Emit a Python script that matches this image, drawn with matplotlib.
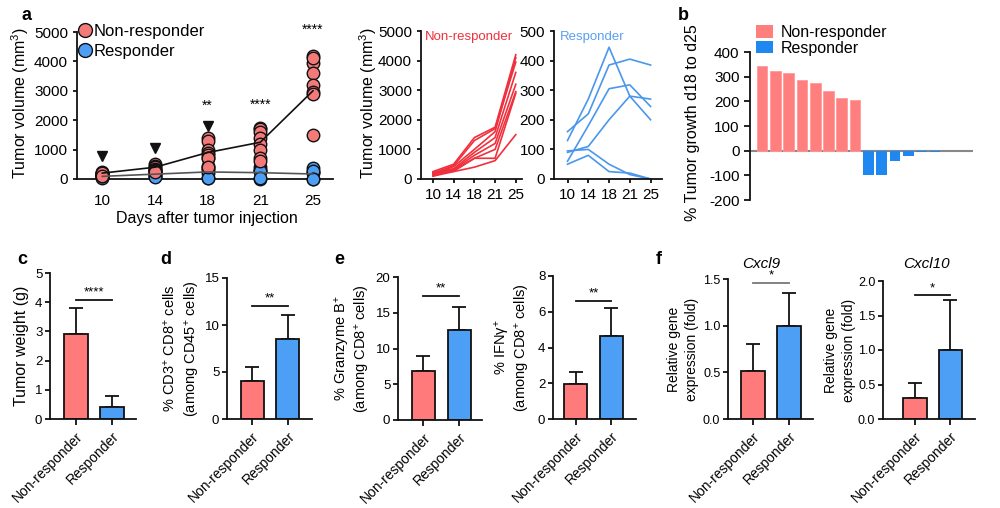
import matplotlib
matplotlib.use("Agg")
import matplotlib.pyplot as plt
from matplotlib.lines import Line2D
from matplotlib.patches import Patch
import numpy as np

plt.rcParams['font.family'] = ['Liberation Sans', 'DejaVu Sans']
plt.rcParams['mathtext.fontset'] = 'custom'
plt.rcParams['mathtext.rm'] = 'Liberation Sans'
plt.rcParams['mathtext.it'] = 'Liberation Sans:italic'
plt.rcParams['axes.unicode_minus'] = False

W, H = 1000, 508

# ---------------- data ----------------
days = ['10', '14', '18', '21', '25']
groups = ['Non-responder', 'Responder']

# individual tumour volumes (mm3), one list per mouse
nr_vol = [
    [250, 500, 1400, 1750, 4200],
    [200, 450, 1300, 1700, 3950],
    [150, 420, 1000, 1600, 4100],
    [200, 350, 900, 1400, 3600],
    [150, 320, 800, 1200, 3200],
    [100, 300, 700, 1000, 2950],
    [220, 260, 700, 700, 2900],
    [100, 250, 400, 620, 1500],
]
r_vol = [
    [130, 270, 445, 280, 200],
    [160, 220, 385, 405, 385],
    [60, 180, 305, 318, 245],
    [90, 110, 200, 280, 270],
    [95, 100, 50, 15, 0],
    [50, 80, 25, 20, 0],
]
nr_mean = [200, 400, 900, 1250, 3000]
r_mean = [90, 165, 240, 215, 170]
tri_idx = [0, 1, 2]
tri_y = [770, 1050, 1810]
star_idx = [2, 3, 4]
star_y = [2250, 2300, 4850]
star_txt = ['**', '****', '****']

growth_nr = [345, 322, 313, 285, 275, 240, 213, 207]
growth_r = [-100, -97, -40, -20, -5, -5]

weight_mean = [2.9, 0.4];   weight_sd = [0.9, 0.4]
cd8_mean = [4.0, 8.5];      cd8_sd = [1.5, 2.6]
gzmb_mean = [6.8, 12.6];    gzmb_sd = [2.2, 3.2]
ifng_mean = [1.95, 4.65];   ifng_sd = [0.7, 1.55]
cxcl9_mean = [0.51, 1.0];   cxcl9_sd = [0.29, 0.35]
cxcl10_mean = [0.31, 1.0];  cxcl10_sd = [0.21, 0.72]

# ---------------- styles ----------------
RED = '#FF7B7B'
BLUE = '#4D9EF5'
RED_LINE = '#F0303C'
BLUE_LINE = '#4A97EC'
RED_B = '#FF7F7F'
BLUE_B = '#1F87F0'


def P(l, t, r, b):
    return [l / W, 1 - b / H, (r - l) / W, (b - t) / H]


def fx(x):
    return x / W


def fy(y):
    return 1 - y / H


def style(ax, lw=1.3):
    for s in ['top', 'right']:
        ax.spines[s].set_visible(False)
    for s in ['left', 'bottom']:
        ax.spines[s].set_linewidth(lw)
        ax.spines[s].set_color('#111111')
    ax.tick_params(width=lw, length=4, color='#111111')


fig = plt.figure(figsize=(W / 100, H / 100), dpi=100)

# ---------------- panel a scatter ----------------
ax = fig.add_axes(P(77, 32, 333, 179))
style(ax)
xpos = np.arange(len(days))
for mouse in r_vol:
    ax.plot(xpos, mouse, 'o', ms=9, mfc=BLUE, mec='#111111', mew=1.0,
            ls='none', clip_on=False, zorder=3)
for mouse in nr_vol:
    ax.plot(xpos, mouse, 'o', ms=9, mfc='#F47A7A', mec='#111111', mew=1.0,
            ls='none', clip_on=False, zorder=4)
ax.plot(xpos, r_mean, '-', color='#555555', lw=1.2, zorder=5, clip_on=False)
ax.plot(xpos, nr_mean, '-', color='#111111', lw=1.2, zorder=5, clip_on=False)
ax.plot(xpos[tri_idx], tri_y, 'v', color='#111111', ms=7.5, zorder=6)
for i, y, t in zip(star_idx, star_y, star_txt):
    ax.text(i, y, t, ha='center', va='bottom', fontsize=10)
ax.set_xlim(-0.48, 4.38)
ax.set_ylim(0, 5000)
ax.set_yticks([0, 1000, 2000, 3000, 4000, 5000])
ax.set_xticks(xpos)
ax.set_xticklabels(days)
ax.tick_params(labelsize=11, length=3)
ax.tick_params(axis='x', pad=8)
leg_handles = [Line2D([], [], marker='o', ls='none', ms=10, mfc='#F47A7A', mec='#111111', mew=1.0),
               Line2D([], [], marker='o', ls='none', ms=10, mfc=BLUE, mec='#111111', mew=1.0)]
ax.legend(leg_handles, groups, loc='upper left', bbox_to_anchor=(fx(78), fy(24)),
          bbox_transform=fig.transFigure, frameon=False, fontsize=12,
          handlelength=0.8, handletextpad=0.15, labelspacing=0.3, borderaxespad=0,
          borderpad=0)
fig.text(fx(207), fy(218), 'Days after tumor injection', ha='center', va='center', fontsize=11.5)
fig.text(fx(20), fy(103), 'Tumor volume (mm$^{3}$)', rotation=90, ha='center', va='center', fontsize=11.5)

# ---------------- panel a lines ----------------
ax = fig.add_axes(P(421, 31, 522, 179))
style(ax)
for mouse in nr_vol:
    ax.plot(xpos, mouse, '-', color=RED_LINE, lw=1.2)
ax.set_xlim(-0.58, 4.3)
ax.set_ylim(0, 5000)
ax.set_yticks([0, 1000, 2000, 3000, 4000, 5000])
ax.set_xticks(xpos)
ax.set_xticklabels(days)
ax.tick_params(labelsize=11, length=3)
ax.text(0.04, 1.0, 'Non-responder', color=RED_LINE, transform=ax.transAxes,
        ha='left', va='top', fontsize=9.5)
fig.text(fx(368), fy(103), 'Tumor volume (mm$^{3}$)', rotation=90, ha='center', va='center', fontsize=11.5)

ax = fig.add_axes(P(554, 31, 662, 179))
style(ax)
for mouse in r_vol:
    ax.plot(xpos, mouse, '-', color=BLUE_LINE, lw=1.2)
ax.set_xlim(-0.65, 4.55)
ax.set_ylim(0, 500)
ax.set_yticks([0, 100, 200, 300, 400, 500])
ax.set_xticks(xpos)
ax.set_xticklabels(days)
ax.tick_params(labelsize=11, length=3)
ax.text(0.05, 1.0, 'Responder', color='#5AA0F0', transform=ax.transAxes,
        ha='left', va='top', fontsize=9.5)

# ---------------- panel b ----------------
ax = fig.add_axes(P(750, 52, 973, 200))
style(ax)
ax.spines['bottom'].set_visible(False)
nb = len(growth_nr)
ax.bar(np.arange(nb), growth_nr, width=0.8, color=RED_B, edgecolor='#FF9A9A', lw=0.6)
ax.bar(np.arange(nb, nb + len(growth_r)), growth_r, width=0.8, color=BLUE_B, lw=0)
ax.set_xlim(-0.9, 15.86)
ax.axhline(0, color='#888888', lw=1.5, zorder=0)
ax.set_ylim(-200, 400)
ax.set_yticks([-200, -100, 0, 100, 200, 300, 400])
ax.set_xticks([])
ax.tick_params(labelsize=11)
ax.legend([Patch(facecolor=RED_B), Patch(facecolor=BLUE_B)], groups,
          loc='upper left', bbox_to_anchor=(fx(756), fy(25)), bbox_transform=fig.transFigure,
          frameon=False, fontsize=11.5, handlelength=1.05, handleheight=0.8,
          handletextpad=0.5, labelspacing=0.05, borderaxespad=0, borderpad=0)
fig.text(fx(693), fy(123), '% Tumor growth d18 to d25', rotation=90, ha='center', va='center', fontsize=11.5)

# ---------------- bar panels ----------------
def barpanel(rect, xlim, ylim, yticks, means, sds, sig_y, sig_txt, ylab, labx,
             title=None, title_x=None, sig_color='#111111', yfmt=None, labsize=10.5,
             ticksize=9.5):
    ax = fig.add_axes(rect)
    style(ax)
    x = np.arange(2)
    ax.errorbar(x, means, yerr=[[0, 0], sds], fmt='none', ecolor='#111111',
                elinewidth=1.3, capsize=5, capthick=1.3, zorder=1)
    ax.bar(x, means, width=0.65, color=[RED, BLUE], edgecolor='#111111', lw=1.3, zorder=2)
    ax.set_xlim(*xlim)
    ax.set_ylim(*ylim)
    ax.set_yticks(yticks)
    if yfmt:
        ax.set_yticklabels([yfmt.format(v) for v in yticks])
    ax.set_xticks(x)
    ax.set_xticklabels(groups, rotation=45, ha='right', rotation_mode='anchor', fontsize=10)
    ax.tick_params(axis='y', labelsize=ticksize, length=3.5, pad=2)
    ax.plot([0, 1], [sig_y, sig_y], color=sig_color, lw=1.3, clip_on=False)
    ax.text(0.5, sig_y + (ylim[1] - ylim[0]) * 0.01, sig_txt, ha='center', va='bottom', fontsize=9.5)
    yc = (rect[1] + rect[3] / 2)
    for lx, lt in zip(labx, ylab):
        fig.text(fx(lx), yc, lt, rotation=90, ha='center', va='center', fontsize=labsize)
    if title:
        fig.text(fx(title_x), fy(264), title, fontsize=11, style='italic', ha='center', va='center')
    return ax

barpanel(P(50, 273, 136, 419), (-0.7, 1.65), (0, 5), [0, 1, 2, 3, 4, 5],
         weight_mean, weight_sd, 4.08, '****', ['Tumor weight (g)'], [22], labsize=11.5)
barpanel(P(227, 278, 312, 419), (-0.71, 1.69), (0, 15), [0, 5, 10, 15],
         cd8_mean, cd8_sd, 12.0, '**',
         ['% CD3$^{+}$ CD8$^{+}$ cells', '(among CD45$^{+}$ cells)'], [170, 192])
barpanel(P(398, 277, 482, 420), (-0.71, 1.64), (0, 20), [0, 5, 10, 15, 20],
         gzmb_mean, gzmb_sd, 17.4, '**',
         ['% Granzyme B$^{+}$', '(among CD8$^{+}$ cells)'], [342, 363])
barpanel(P(553, 276, 636, 419), (-0.65, 1.7), (0, 8), [0, 2, 4, 6, 8],
         ifng_mean, ifng_sd, 6.6, '**',
         ['% IFN\u03b3$^{+}$', '(among CD8$^{+}$ cells)'], [503, 522])
barpanel(P(728, 279, 813, 419), (-0.69, 1.67), (0, 1.5), [0, 0.5, 1.0, 1.5],
         cxcl9_mean, cxcl9_sd, 1.46, '*',
         ['Relative gene', 'expression (fold)'], [674, 692], title='Cxcl9', title_x=761,
         sig_color='#777777', yfmt='{:.1f}', labsize=10, ticksize=9)
barpanel(P(883, 281, 975, 419), (-0.9, 1.69), (0, 2.0), [0, 0.5, 1.0, 1.5, 2.0],
         cxcl10_mean, cxcl10_sd, 1.79, '*',
         ['Relative gene', 'expression (fold)'], [831, 849], title='Cxcl10', title_x=926,
         yfmt='{:.1f}', labsize=10, ticksize=9)

# ---------------- panel letters ----------------
for lt, x, y in [('a', 26, 15), ('b', 683, 15), ('c', 22, 260), ('d', 166, 259),
                 ('e', 339, 259), ('f', 659, 259)]:
    fig.text(fx(x), fy(y), lt, fontsize=13, fontweight='bold', ha='center', va='center')

fig.savefig('out.png', dpi=100)
